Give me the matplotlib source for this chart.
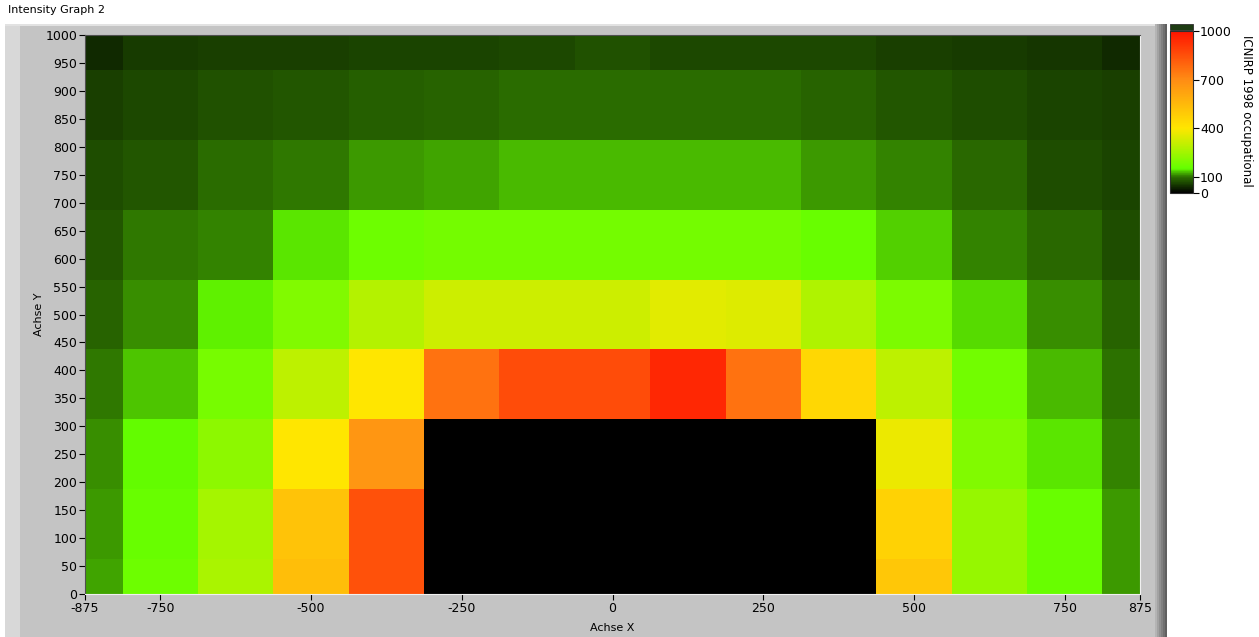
import numpy as np
import matplotlib.pyplot as plt
from matplotlib.colors import LinearSegmentedColormap
from matplotlib.patches import Rectangle

# measurement grid (cell centres)
x_pos = [-875, -750, -625, -500, -375, -250, -125, 0, 125, 250, 375, 500, 625, 750, 875]
y_pos = [0, 125, 250, 375, 500, 625, 750, 875, 1000]

# field values, one list per row, bottom (y=0) to top (y=1000)
row_0    = [121, 166, 263, 533, 845, 0, 0, 0, 0, 0, 0, 500, 231, 158, 114]
row_125  = [116, 158, 255, 517, 845, 0, 0, 0, 0, 0, 0, 467, 231, 158, 114]
row_250  = [112, 150, 215, 400, 667, 0, 0, 0, 0, 0, 0, 368, 198, 141, 109]
row_375  = [104, 130, 182, 295, 400, 762, 857, 857, 950, 762, 450, 295, 174, 127, 100]
row_500  = [87, 112, 146, 198, 279, 319, 319, 319, 352, 344, 271, 190, 139, 112, 87]
row_625  = [78, 102, 109, 141, 166, 179, 179, 179, 179, 179, 158, 136, 109, 91, 70]
row_750  = [70, 78, 96, 105, 114, 120, 125, 125, 125, 125, 116, 107, 91, 70, 61]
row_875  = [57, 65, 74, 78, 83, 87, 96, 96, 96, 96, 87, 78, 70, 61, 57]
row_1000 = [39, 52, 57, 57, 61, 61, 65, 74, 65, 65, 65, 57, 52, 48, 39]

Z = np.array([row_0, row_125, row_250, row_375, row_500,
              row_625, row_750, row_875, row_1000], dtype=float)

x_ticks = [-875, -750, -500, -250, 0, 250, 500, 750, 875]
y_ticks = list(range(0, 1001, 50))
cbar_ticks = [0, 100, 400, 700, 1000]

# ICNIRP ramp: black -> green -> yellow -> orange -> red
cmap = LinearSegmentedColormap.from_list("icnirp", [
    (0.00, (0, 0, 0)),
    (0.10, (45/255, 115/255, 0)),
    (0.15, (100/255, 1, 0)),
    (0.40, (1, 230/255, 0)),
    (0.70, (1, 140/255, 20/255)),
    (1.00, (1, 20/255, 0)),
])

W, H = 1259, 637
fig = plt.figure(figsize=(W/100, H/100), dpi=100, facecolor="white")

def fx(px):
    return px / W

def fy(py):
    return 1 - py / H

# grey front-panel background with raised edges
fig.patches.append(Rectangle((fx(5), 0), fx(1167-5), 1 - 24/H, transform=fig.transFigure,
                             facecolor="#c4c4c4", edgecolor="none", zorder=-5))
fig.patches.append(Rectangle((fx(5), 0), fx(15), 1 - 24/H, transform=fig.transFigure,
                             facecolor="#d8d8d8", edgecolor="none", zorder=-4))
for i, c in enumerate(["#b4b4b4", "#a2a2a2", "#909090", "#808080", "#707070", "#606060"]):
    fig.patches.append(Rectangle((fx(1155 + 2*i), 0), fx(2), 1 - 24/H, transform=fig.transFigure,
                                 facecolor=c, edgecolor="none", zorder=-4))
fig.patches.append(Rectangle((fx(5), fy(26)), fx(1155-5), 2/H, transform=fig.transFigure,
                             facecolor="#e2e2e2", edgecolor="none", zorder=-4))

fig.text(fx(8), fy(10), "Intensity Graph 2", fontsize=8, va="center", ha="left")

ax = fig.add_axes([fx(85), 1 - 594/H, fx(1140-85), (594-35)/H])
mesh = ax.pcolormesh(x_pos, y_pos, Z, cmap=cmap, vmin=0, vmax=1000, shading="nearest")
ax.set_xlim(-875, 875)
ax.set_ylim(0, 1000)
ax.set_xticks(x_ticks)
ax.set_xticklabels([str(t) for t in x_ticks])
ax.set_yticks(y_ticks)
ax.tick_params(labelsize=9, length=4, width=0.8, pad=1.5)
for side in ["top", "left"]:
    ax.spines[side].set_color("#505050")
for side in ["bottom", "right"]:
    ax.spines[side].set_color("#f0f0f0")
ax.set_xlabel("Achse X", fontsize=8, labelpad=6)
ax.set_ylabel("Achse Y", fontsize=8, labelpad=1)

# colour scale
cax = fig.add_axes([fx(1170), 1 - 193/H, fx(23), (193-31)/H])
cb = fig.colorbar(mesh, cax=cax, ticks=cbar_ticks)
cb.outline.set_edgecolor("#303030")
cb.outline.set_linewidth(0.8)
cax.tick_params(labelsize=9, length=4, width=0.8, pad=1, direction="out")
fig.patches.append(Rectangle((fx(1170), fy(30)), fx(23), 6/H, transform=fig.transFigure,
                             facecolor="#1e3c14", edgecolor="#303030", linewidth=0.6, zorder=5))
fig.text(fx(1246), fy(111), "ICNIRP 1998 occupational", fontsize=8.5, rotation=270,
         va="center", ha="center")

fig.savefig("out.png", dpi=100, facecolor=fig.get_facecolor())
